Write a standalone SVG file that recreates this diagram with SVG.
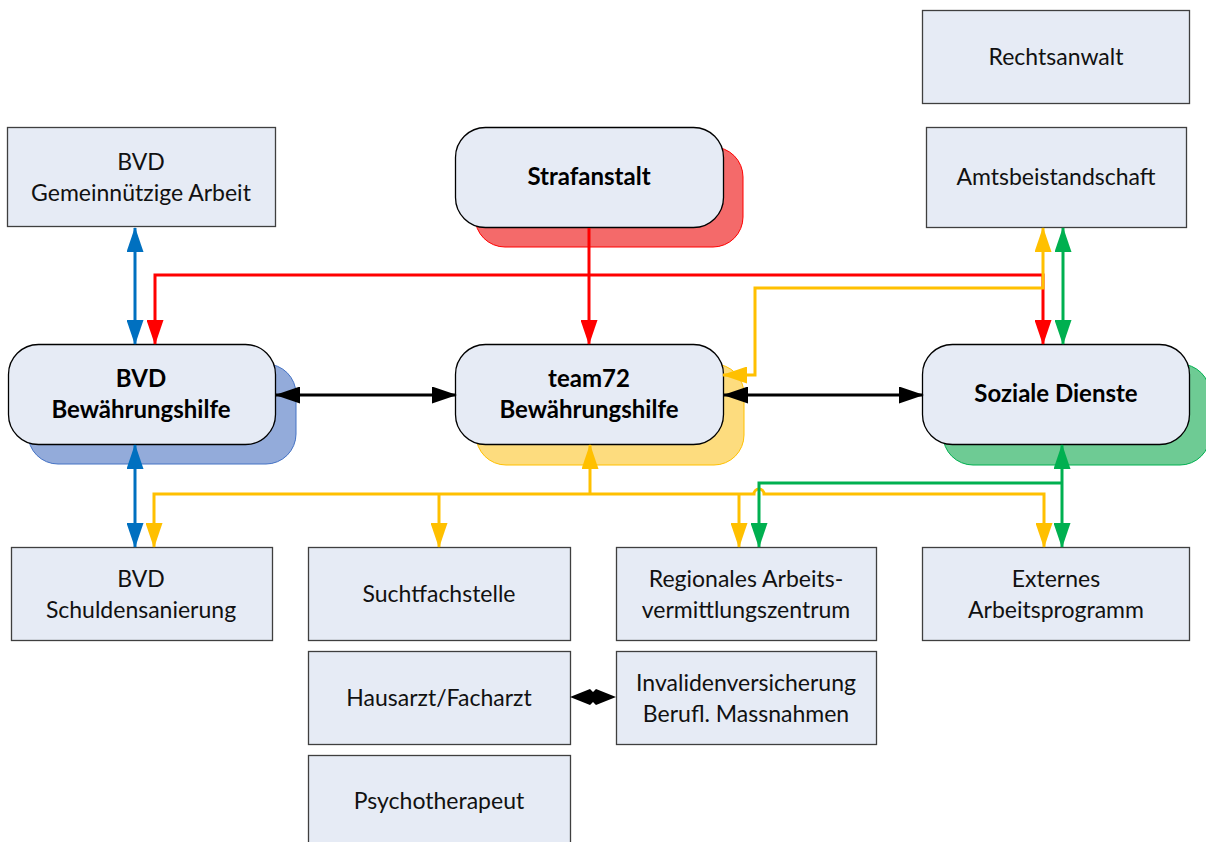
<svg xmlns="http://www.w3.org/2000/svg" width="1206" height="842" viewBox="0 0 1206 842">
<style>
.box{fill:#E6EBF5;stroke:#3F3F3F;stroke-width:1.3}
.rbox{fill:#E6EBF5;stroke:#000;stroke-width:1.3}
.t{font-family:Lato,"Liberation Sans",sans-serif;font-size:23px;fill:#111;text-anchor:middle}
.b{font-weight:bold;fill:#000;font-size:24px}
.c{fill:none;stroke-width:3}
</style>
<defs>
<marker id="aBlue" markerUnits="userSpaceOnUse" markerWidth="25" markerHeight="17" refX="24" refY="8.5" orient="auto-start-reverse"><path d="M0,0 L25,8.5 L0,17 z" fill="#0070C0"/></marker>
<marker id="aRed" markerUnits="userSpaceOnUse" markerWidth="25" markerHeight="17" refX="24" refY="8.5" orient="auto-start-reverse"><path d="M0,0 L25,8.5 L0,17 z" fill="#FF0000"/></marker>
<marker id="aYel" markerUnits="userSpaceOnUse" markerWidth="25" markerHeight="17" refX="24" refY="8.5" orient="auto-start-reverse"><path d="M0,0 L25,8.5 L0,17 z" fill="#FFC000"/></marker>
<marker id="aGrn" markerUnits="userSpaceOnUse" markerWidth="25" markerHeight="17" refX="24" refY="8.5" orient="auto-start-reverse"><path d="M0,0 L25,8.5 L0,17 z" fill="#00B050"/></marker>
<marker id="aBlk" markerUnits="userSpaceOnUse" markerWidth="25" markerHeight="17" refX="24" refY="8.5" orient="auto-start-reverse"><path d="M0,0 L25,8.5 L0,17 z" fill="#000"/></marker>
</defs>
<rect width="1206" height="842" fill="#fff"/>

<g id="n-rechtsanwalt"><rect class="box" x="922.5" y="10.5" width="267" height="93"/><text class="t" x="1056" y="65">Rechtsanwalt</text></g>
<g id="n-amtsbeistandschaft"><rect class="box" x="926.5" y="127.5" width="260" height="100"/><text class="t" x="1056" y="185">Amtsbeistandschaft</text></g>
<g id="n-bvd-ga"><rect class="box" x="7.5" y="127.5" width="268" height="99"/><text class="t" x="141" y="170">BVD</text><text class="t" x="141" y="201">Gemeinnützige Arbeit</text></g>

<g id="n-strafanstalt"><rect x="475" y="147" width="268" height="100" rx="30" fill="#F46A6A" stroke="#FF0000" stroke-width="1"/><rect class="rbox" x="455.5" y="127.5" width="268" height="100" rx="30"/><text class="t b" x="589" y="185">Strafanstalt</text></g>
<g id="n-bvd-bh"><rect x="28" y="364" width="268" height="100" rx="30" fill="#93ABDA" stroke="#4472C4" stroke-width="1"/><rect class="rbox" x="8.5" y="344.5" width="267" height="100" rx="30"/><text class="t b" x="141" y="387">BVD</text><text class="t b" x="141" y="418">Bewährungshilfe</text></g>
<g id="n-team72"><rect x="476" y="364" width="268" height="101" rx="30" fill="#FDDC7E" stroke="#FFC000" stroke-width="1"/><rect class="rbox" x="455.5" y="344.5" width="268" height="100" rx="30"/><text class="t b" x="589" y="387">team72</text><text class="t b" x="589" y="418">Bewährungshilfe</text></g>
<g id="n-soziale"><rect x="943" y="364" width="267" height="101" rx="30" fill="#6ECB94" stroke="#00B050" stroke-width="1"/><rect class="rbox" x="922.5" y="344.5" width="267" height="100" rx="30"/><text class="t b" x="1056" y="402">Soziale Dienste</text></g>

<g id="n-bvd-schulden"><rect class="box" x="11.5" y="547.5" width="261" height="93"/><text class="t" x="141" y="587">BVD</text><text class="t" x="141" y="618">Schuldensanierung</text></g>
<g id="n-sucht"><rect class="box" x="308.5" y="547.5" width="262" height="93"/><text class="t" x="439" y="602">Suchtfachstelle</text></g>
<g id="n-rav"><rect class="box" x="616.5" y="547.5" width="260" height="93"/><text class="t" x="746" y="587">Regionales Arbeits-</text><text class="t" x="746" y="618">vermittlungszentrum</text></g>
<g id="n-extern"><rect class="box" x="922.5" y="547.5" width="267" height="93"/><text class="t" x="1056" y="587">Externes</text><text class="t" x="1056" y="618">Arbeitsprogramm</text></g>
<g id="n-hausarzt"><rect class="box" x="308.5" y="651.5" width="262" height="93"/><text class="t" x="439" y="706">Hausarzt/Facharzt</text></g>
<g id="n-iv"><rect class="box" x="616.5" y="651.5" width="260" height="93"/><text class="t" x="746" y="691">Invalidenversicherung</text><text class="t" x="746" y="722">Berufl. Massnahmen</text></g>
<g id="n-psycho"><rect class="box" x="308.5" y="755.5" width="262" height="100"/><text class="t" x="439" y="809">Psychotherapeut</text></g>

<g id="connectors">
<path class="c" stroke="#0070C0" d="M135,228 V344" marker-start="url(#aBlue)" marker-end="url(#aBlue)"/>
<path class="c" stroke="#0070C0" d="M135,445 V547" marker-start="url(#aBlue)" marker-end="url(#aBlue)"/>
<path class="c" stroke="#FF0000" d="M589,228 V344" marker-end="url(#aRed)"/>
<path class="c" stroke="#FF0000" d="M155,344 V275 H1043 V344" marker-start="url(#aRed)" marker-end="url(#aRed)"/>
<path class="c" stroke="#FFC000" d="M1043,228 V288 H755 V375 H723" marker-start="url(#aYel)" marker-end="url(#aYel)"/>
<path class="c" stroke="#00B050" d="M1063,228 V344" marker-start="url(#aGrn)" marker-end="url(#aGrn)"/>
<path class="c" stroke="#000" d="M276,395 H456" marker-start="url(#aBlk)" marker-end="url(#aBlk)"/>
<path class="c" stroke="#000" d="M724,395 H923" marker-start="url(#aBlk)" marker-end="url(#aBlk)"/>
<path class="c" stroke="#FFC000" d="M590,445 V494" marker-start="url(#aYel)"/>
<path class="c" stroke="#FFC000" d="M154,547 V494 H754 A5,5 0 0 1 764,494 H1044 V547" marker-start="url(#aYel)" marker-end="url(#aYel)"/>
<path class="c" stroke="#FFC000" d="M439,494 V547" marker-end="url(#aYel)"/>
<path class="c" stroke="#FFC000" d="M739,494 V547" marker-end="url(#aYel)"/>
<path class="c" stroke="#00B050" d="M1062,445 V547" marker-start="url(#aGrn)" marker-end="url(#aGrn)"/>
<path class="c" stroke="#00B050" d="M1062,483 H759 V547" marker-end="url(#aGrn)"/>
<path fill="#000" d="M570,697 L590,689 L593,692 L596,689 L616,697 L596,705 L593,702 L590,705 z"/>
</g>
</svg>
